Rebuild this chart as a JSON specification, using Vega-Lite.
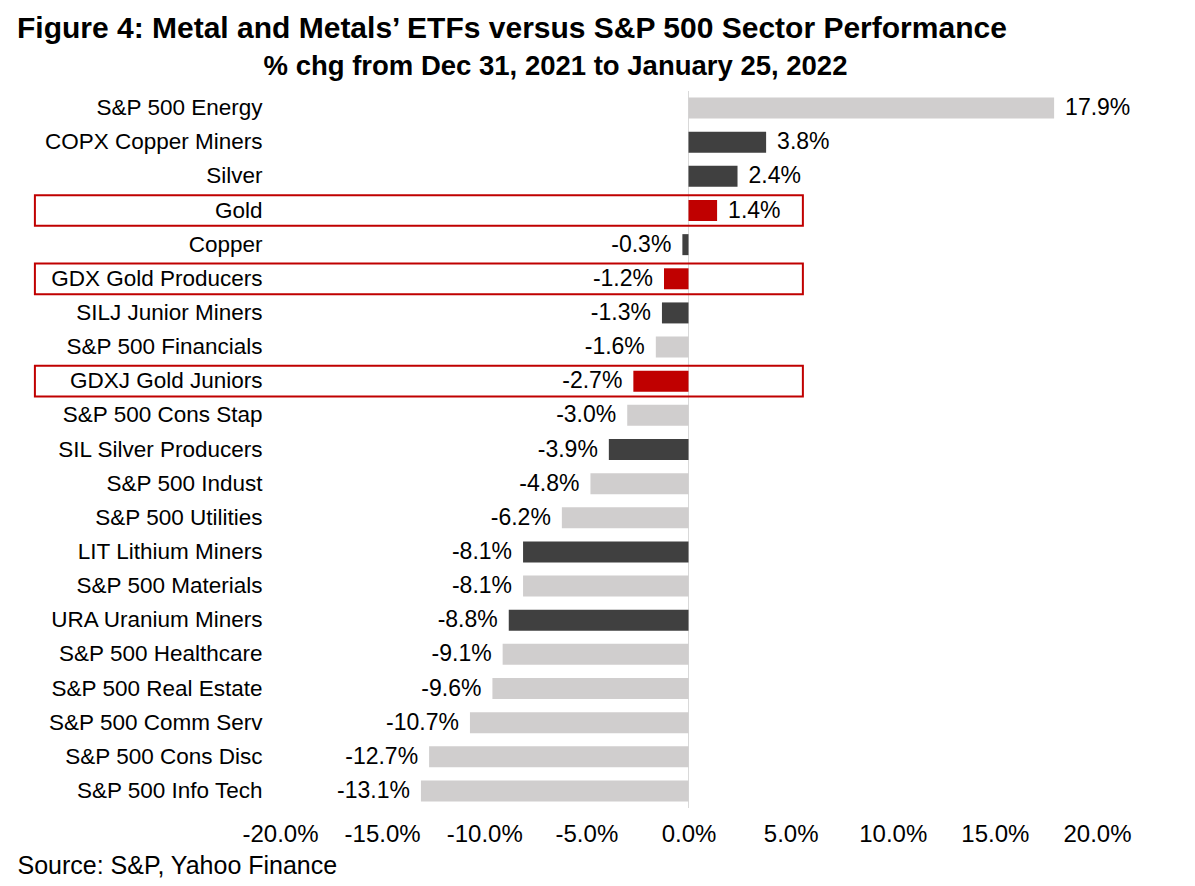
{
  "$schema": "https://vega.github.io/schema/vega-lite/v6.json",
  "width": 817,
  "height": 717,
  "autosize": {"type": "none"},
  "padding": {"left": 280, "top": 91, "right": 98, "bottom": 78},
  "background": "white",
  "title": {
    "text": "Figure 4: Metal and Metals’ ETFs versus S&P 500 Sector Performance",
    "anchor": "start",
    "frame": "group",
    "dx": -263,
    "fontSize": 30,
    "fontWeight": "bold",
    "color": "black",
    "offset": 8
  },
  "config": {
    "font": "Liberation Sans",
    "view": {"stroke": null},
    "locale": {"number": {"decimal": ".", "thousands": ",", "grouping": [3], "currency": ["$", ""], "minus": "-"}}
  },
  "data": {
    "values": [
      {"name": "S&P 500 Energy", "v": 0.179, "group": "sp", "hl": false},
      {"name": "COPX Copper Miners", "v": 0.038, "group": "metal", "hl": false},
      {"name": "Silver", "v": 0.024, "group": "metal", "hl": false},
      {"name": "Gold", "v": 0.014, "group": "gold", "hl": true},
      {"name": "Copper", "v": -0.003, "group": "metal", "hl": false},
      {"name": "GDX Gold Producers", "v": -0.012, "group": "gold", "hl": true},
      {"name": "SILJ Junior Miners", "v": -0.013, "group": "metal", "hl": false},
      {"name": "S&P 500 Financials", "v": -0.016, "group": "sp", "hl": false},
      {"name": "GDXJ Gold Juniors", "v": -0.027, "group": "gold", "hl": true},
      {"name": "S&P 500 Cons Stap", "v": -0.030, "group": "sp", "hl": false},
      {"name": "SIL Silver Producers", "v": -0.039, "group": "metal", "hl": false},
      {"name": "S&P 500 Indust", "v": -0.048, "group": "sp", "hl": false},
      {"name": "S&P 500 Utilities", "v": -0.062, "group": "sp", "hl": false},
      {"name": "LIT Lithium Miners", "v": -0.081, "group": "metal", "hl": false},
      {"name": "S&P 500 Materials", "v": -0.081, "group": "sp", "hl": false},
      {"name": "URA Uranium Miners", "v": -0.088, "group": "metal", "hl": false},
      {"name": "S&P 500 Healthcare", "v": -0.091, "group": "sp", "hl": false},
      {"name": "S&P 500 Real Estate", "v": -0.096, "group": "sp", "hl": false},
      {"name": "S&P 500 Comm Serv", "v": -0.107, "group": "sp", "hl": false},
      {"name": "S&P 500 Cons Disc", "v": -0.127, "group": "sp", "hl": false},
      {"name": "S&P 500 Info Tech", "v": -0.131, "group": "sp", "hl": false}
    ]
  },
  "layer": [
    {
      "mark": {"type": "rule", "color": "#d9d9d9", "strokeWidth": 1},
      "encoding": {
        "x": {
          "datum": 0,
          "type": "quantitative",
          "axis": {
            "orient": "top",
            "labels": false,
            "ticks": false,
            "domain": false,
            "grid": false,
            "title": "% chg from Dec 31, 2021 to January 25, 2022",
            "titleFontSize": 27.5,
            "titleFontWeight": "bold",
            "titleColor": "black",
            "titleX": 275,
            "titleY": -25,
            "titleBaseline": "middle",
            "titleAlign": "center"
          }
        }
      }
    },
    {
      "mark": {"type": "bar", "height": {"band": 0.615}},
      "encoding": {
        "y": {
          "field": "name",
          "type": "nominal",
          "sort": null,
          "scale": {"paddingInner": 0, "paddingOuter": 0},
          "axis": {
            "title": null,
            "ticks": false,
            "domain": false,
            "labelFontSize": 22.5,
            "labelColor": "black",
            "labelPadding": 18,
            "labelLimit": 400
          }
        },
        "x": {
          "field": "v",
          "type": "quantitative",
          "scale": {"domain": [-0.2, 0.2], "nice": false, "zero": true},
          "axis": {
            "orient": "bottom",
            "values": [-0.2, -0.15, -0.1, -0.05, 0, 0.05, 0.1, 0.15, 0.2],
            "format": ".1%",
            "labelFontSize": 24,
            "labelColor": "black",
            "labelPadding": 14,
            "labelOverlap": false,
            "labelFlush": false,
            "ticks": false,
            "domain": false,
            "grid": false,
            "title": "Source: S&P, Yahoo Finance",
            "titleFontSize": 25,
            "titleFontWeight": "normal",
            "titleColor": "black",
            "titleAlign": "left",
            "titleAnchor": "start",
            "titleX": -263,
            "titleY": 57,
            "titleBaseline": "middle"
          }
        },
        "color": {
          "field": "group",
          "type": "nominal",
          "scale": {"domain": ["sp", "metal", "gold"], "range": ["#d0cece", "#404040", "#c00000"]},
          "legend": null
        }
      }
    },
    {
      "transform": [{"filter": "datum.v >= 0"}],
      "mark": {"type": "text", "align": "left", "baseline": "middle", "dx": 11, "fontSize": 23, "color": "black"},
      "encoding": {
        "y": {"field": "name", "type": "nominal", "sort": null, "axis": null},
        "x": {"field": "v", "type": "quantitative", "axis": null},
        "text": {"field": "v", "type": "quantitative", "format": ".1%"}
      }
    },
    {
      "transform": [{"filter": "datum.v < 0"}],
      "mark": {"type": "text", "align": "right", "baseline": "middle", "dx": -11, "fontSize": 23, "color": "black"},
      "encoding": {
        "y": {"field": "name", "type": "nominal", "sort": null, "axis": null},
        "x": {"field": "v", "type": "quantitative", "axis": null},
        "text": {"field": "v", "type": "quantitative", "format": ".1%"}
      }
    },
    {
      "transform": [{"filter": "datum.hl"}],
      "mark": {"type": "bar", "height": {"band": 0.9}, "fill": null, "stroke": "#c00000", "strokeWidth": 2, "clip": false},
      "encoding": {
        "y": {"field": "name", "type": "nominal", "sort": null, "axis": null},
        "x": {"datum": -0.32, "type": "quantitative", "axis": null},
        "x2": {"datum": 0.056}
      }
    }
  ],
  "resolve": {"axis": {"x": "independent", "y": "independent"}}
}
